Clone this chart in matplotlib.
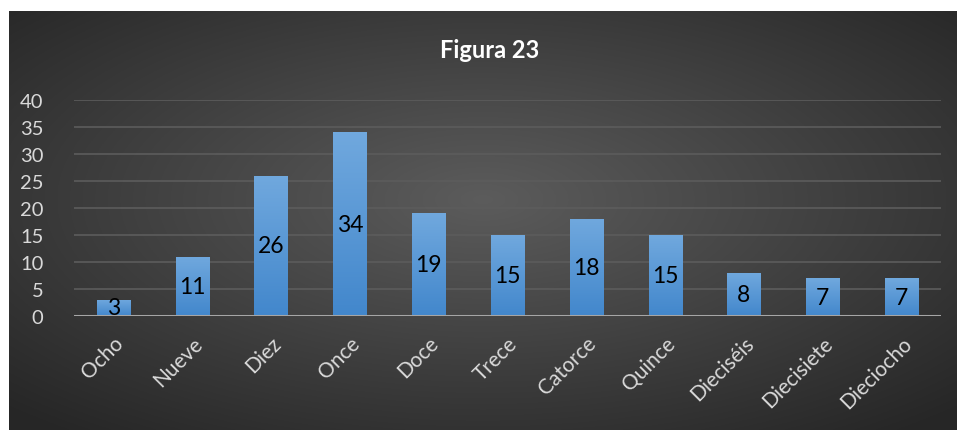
import numpy as np
import matplotlib.pyplot as plt

categorias = ['Ocho', 'Nueve', 'Diez', 'Once', 'Doce', 'Trece', 'Catorce',
              'Quince', 'Dieciséis', 'Diecisiete', 'Dieciocho']
valores = [3, 11, 26, 34, 19, 15, 18, 15, 8, 7, 7]
yticks = [0, 5, 10, 15, 20, 25, 30, 35, 40]

plt.rcParams['font.family'] = ['Lato', 'DejaVu Sans']

W, H = 957, 431
fig = plt.figure(figsize=(W / 100, H / 100), dpi=100, facecolor='white')

# dark radial background
bg = fig.add_axes([9 / W, 0, (W - 9) / W, (H - 12) / H])
bg.set_axis_off()
yy, xx = np.mgrid[0:1:300j, 0:1:600j]
r = np.sqrt(((xx - 0.5) / 0.75) ** 2 + ((yy - 0.45) / 0.75) ** 2)
r = np.clip(r / 0.95, 0, 1)
shade = 0.36 - 0.21 * r
bg.imshow(np.dstack([shade, shade, shade]), aspect='auto', extent=[0, 1, 0, 1])
bg.set_xlim(0, 1)
bg.set_ylim(0, 1)

ax = fig.add_axes([74 / W, (H - 317) / H, (941 - 74) / W, (317 - 101) / H])
ax.patch.set_alpha(0)
x = np.arange(len(categorias))

for yv in yticks[1:]:
    ax.axhline(yv, color='#5c5c5c', lw=1.2, zorder=1)

bars = ax.bar(x, valores, width=0.42, color='#5b9bd5', zorder=2)
grad = np.linspace(0, 1, 100).reshape(-1, 1)
top = np.array([0.44, 0.66, 0.87])
bot = np.array([0.26, 0.53, 0.80])
img = bot + (top - bot) * grad[..., None]
for b, v in zip(bars, valores):
    bx, bw = b.get_x(), b.get_width()
    im = ax.imshow(img, origin='lower', aspect='auto',
                   extent=[bx, bx + bw, 0, v], zorder=3)
    im.set_clip_path(b)
    ax.text(bx + bw / 2, v / 2, str(v),
            ha='center', va='center', fontsize=16.5, color='black', zorder=4)

ax.axhline(0, color='#a6a6a6', lw=2.2, zorder=5)

for s in ax.spines.values():
    s.set_visible(False)
ax.set_yticks(yticks)
ax.set_yticklabels([str(v) for v in yticks], fontsize=14.5, color='#d9d9d9')
ax.set_xticks(x)
ax.set_xticklabels(categorias, rotation=45, ha='right', rotation_mode='anchor',
                   fontsize=15, color='#d9d9d9')
ax.tick_params(length=0)
ax.tick_params(axis='y', pad=22)
ax.tick_params(axis='x', pad=12)
ax.set_xlim(-0.5, len(categorias) - 0.5)
ax.set_ylim(0, 40)

fig.text(490 / W, 1 - 50 / H, 'Figura 23', ha='center', va='center',
         fontsize=17, fontweight='bold', color='white')

fig.savefig('out.png', dpi=100, facecolor='white')
